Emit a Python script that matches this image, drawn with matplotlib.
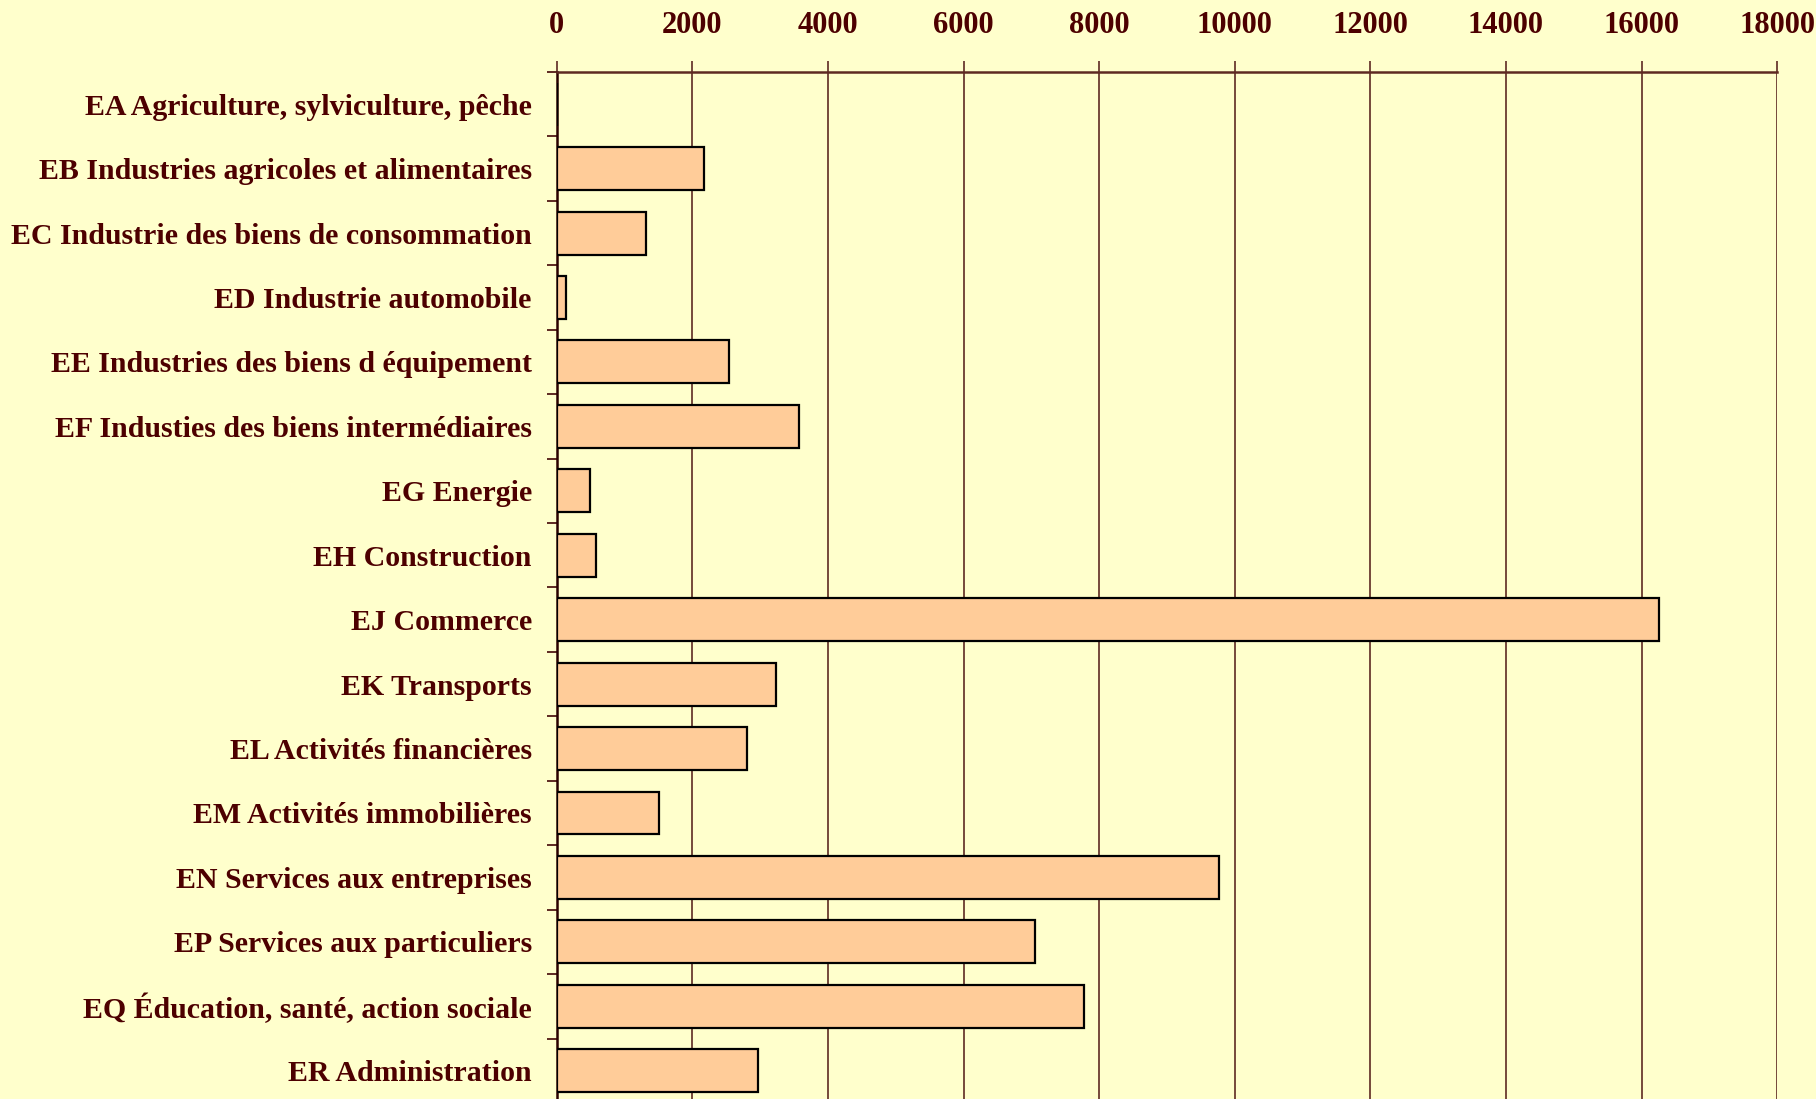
import numpy as np
from matplotlib import pyplot as plt

# secteurs et valeurs
SECTEURS = [
    "EA Agriculture, sylviculture, pêche",
    "EB Industries agricoles et alimentaires",
    "EC Industrie des biens de consommation",
    "ED Industrie automobile",
    "EE Industries des biens d équipement",
    "EF Industies des biens intermédiaires",
    "EG Energie",
    "EH Construction",
    "EJ Commerce",
    "EK Transports",
    "EL Activités financières",
    "EM Activités immobilières",
    "EN Services aux entreprises",
    "EP Services aux particuliers",
    "EQ Éducation, santé, action sociale",
    "ER Administration",
]
VALEURS = [0, 2170, 1315, 140, 2540, 3570, 485, 575,
           16255, 3230, 2800, 1512, 9770, 7058, 7770, 2975]
XTICKS = list(range(0, 18001, 2000))

FOND = "#FFFFCC"
BARRE = "#FFCC99"
TEXTE = "#4D0000"
GRILLE = "#5E2A22"

plt.rcParams['font.family'] = ['Liberation Serif', 'DejaVu Serif']
plt.rcParams['font.weight'] = 'bold'

fig = plt.figure(figsize=(18.16, 10.99), dpi=100, facecolor=FOND)
ax = fig.add_axes([0.3066, -0.0036, 0.6720, 0.9381], facecolor=FOND)

pos = np.arange(len(SECTEURS))
ax.barh(pos, VALEURS, height=0.667, color=BARRE, edgecolor="black",
        linewidth=1.6, zorder=3)

ax.set_xlim(0, 18000)
ax.set_ylim(len(SECTEURS) - 0.5, -0.5)

ax.xaxis.tick_top()
ax.set_xticks(XTICKS)
ax.set_xticklabels([str(v) for v in XTICKS], fontsize=22, color=TEXTE,
                   fontweight='bold')
ax.tick_params(axis='x', length=8, width=1.2, color=GRILLE, pad=15)

ax.set_yticks(pos)
ax.set_yticklabels(SECTEURS, fontsize=21.5, color=TEXTE, fontweight='bold')
ax.set_yticks(np.arange(-0.5, len(SECTEURS), 1.0), minor=True)
ax.tick_params(axis='y', which='major', length=0, pad=18)
ax.tick_params(axis='y', which='minor', length=7, width=1.4, color=GRILLE)

ax.grid(axis='x', color=GRILLE, linewidth=1.2, zorder=0)
ax.set_axisbelow(True)

for s in ['right', 'bottom']:
    ax.spines[s].set_visible(False)
ax.spines['top'].set_color(GRILLE)
ax.spines['top'].set_linewidth(1.8)
ax.spines['left'].set_color("#2A0000")
ax.spines['left'].set_linewidth(1.8)

fig.savefig("out.png", dpi=100, facecolor=FOND)
